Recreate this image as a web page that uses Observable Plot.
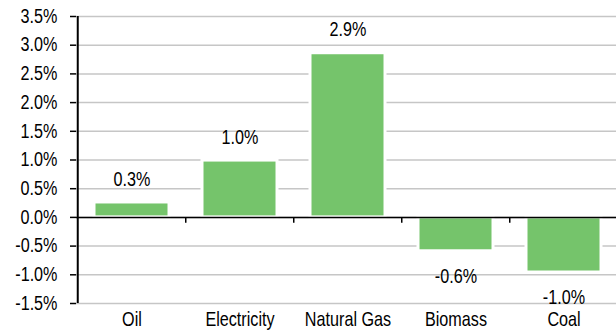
<!DOCTYPE html>
<html>
<head>
<meta charset="utf-8">
<script src="https://cdn.jsdelivr.net/npm/d3@7"></script>
<script src="https://cdn.jsdelivr.net/npm/@observablehq/plot@0.6"></script>
<style>
  html, body { margin: 0; padding: 0; background: #fff; }
  svg { display: block; }
</style>
</head>
<body>
<div id="chart"></div>
<script>
// Annual growth by energy source, in percent
const categories = ["Oil", "Electricity", "Natural Gas", "Biomass", "Coal"];
const values = [0.26, 0.99, 2.86, -0.59, -0.96];
const yTicks = [-1.5, -1.0, -0.5, 0, 0.5, 1.0, 1.5, 2.0, 2.5, 3.0, 3.5];

const data = categories.map((category, i) => ({category, value: values[i]}));

const xRange = [76, 618.5];
const paddingInner = 0.31;
const paddingOuter = 0.155;
const step = (xRange[1] - xRange[0]) / (categories.length - paddingInner + 2 * paddingOuter);
const fmt = v => v.toFixed(1) + "%";
// horizontal squeeze for a condensed Arial look
const textSqueeze = 0.83;

const chart = Plot.plot({
  width: 616,
  height: 331,
  marginTop: 16,
  marginBottom: 28,
  marginLeft: 76,
  marginRight: 0,
  style: {
    fontFamily: "'Liberation Sans', Arial, sans-serif",
    fontSize: "19.5px",
    color: "#000",
    background: "#fff"
  },
  x: {domain: categories, range: xRange, paddingInner, paddingOuter, label: null},
  y: {domain: [-1.5, 3.5], label: null},
  marks: [
    // horizontal gridlines
    Plot.ruleY(yTicks, {stroke: "#c6c6c6", strokeWidth: 1.5}),
    // bars
    Plot.barY(data, {x: "category", y: "value", fill: "#75c46b", stroke: "#fff", strokeWidth: 3}),
    // zero baseline and category separators
    Plot.ruleY([0], {stroke: "#000", strokeWidth: 1.5}),
    Plot.ruleX(categories.slice(1), {y1: 0, y2: -0.1, dx: -step / 2, stroke: "#000", strokeWidth: 1.5}),
    // left axis line
    Plot.ruleX([categories[0]], {y1: -1.5, y2: 3.5, dx: -step / 2, stroke: "#000", strokeWidth: 2}),
    // value labels
    Plot.text(data.filter(d => d.value >= 0), {x: "category", y: "value", text: d => fmt(d.value), dy: -23, fill: "#000"}),
    Plot.text(data.filter(d => d.value < 0), {x: "category", y: "value", text: d => fmt(d.value), dy: 25, fill: "#000"}),
    // axes
    Plot.axisY(yTicks, {tickSize: 6, tickPadding: 13, tickFormat: fmt, strokeWidth: 1.5}),
    Plot.axisX({tickSize: 0, tickPadding: 9})
  ]
});

// narrow every label around its own anchor point
chart.querySelectorAll("text").forEach(t => {
  const tr = t.getAttribute("transform") || "";
  t.setAttribute("transform", `${tr} scale(${textSqueeze},1)`);
});

document.getElementById("chart").appendChild(chart);
</script>
</body>
</html>
